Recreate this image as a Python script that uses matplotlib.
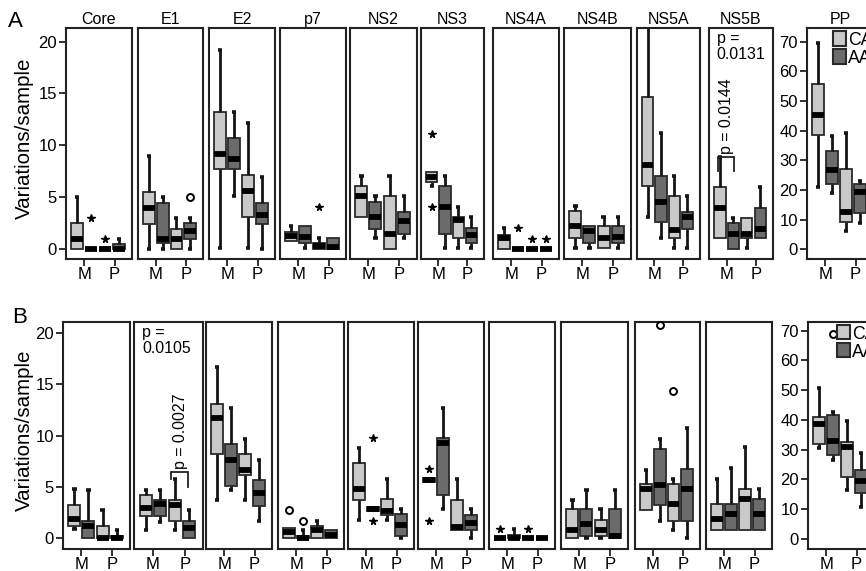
import matplotlib
matplotlib.use("Agg")
import matplotlib.pyplot as plt
from matplotlib.patches import Patch

plt.rcParams['font.family'] = ['Liberation Sans', 'DejaVu Sans']

genes = ["Core", "E1", "E2", "p7", "NS2", "NS3", "NS4A", "NS4B", "NS5A", "NS5B", "PP"]
group_labels = ["M", "P"]
cohorts = ["CA", "AA"]

# Box statistics per gene; the four boxes are CA-M, AA-M, CA-P, AA-P
# ---- panel A ----
a_lo = [[0, 0, 0, 0], [0, 0, 0, 0], [0.1, 5.1, 0.1, 0], [0.8, 0.1, 0, 0],
        [3.1, 1.1, 0, 1.1], [6.1, 0.1, 0.1, 0.1], [0, 0, 0, 0], [0.1, 0.1, 0.1, 0.1],
        [3.1, 1.1, 0.1, 0.1], [1.1, 0, 0.1, 1.1], [20.9, 19.1, 6.0, 9.0]]
a_q1 = [[0, 0, 0, 0], [2.4, 0.6, 0, 1.0], [7.7, 7.7, 3.1, 2.4], [0.8, 0.6, 0, 0],
        [3.1, 2.0, 0, 1.5], [6.5, 1.5, 1.1, 0.6], [0, 0, 0, 0], [1.1, 0.6, 0.1, 0.6],
        [6.1, 2.6, 1.1, 2.0], [1.1, 0, 1.1, 1.1], [38.5, 22.0, 9.3, 12.1]]
a_med = [[1.0, 0, 0, 0], [4.0, 1.0, 1.0, 1.8], [9.2, 8.7, 5.6, 3.3], [1.3, 1.2, 0.3, 0.2],
         [5.1, 3.1, 1.5, 2.7], [7.0, 4.1, 2.8, 1.4], [1.1, 0, 0, 0], [2.2, 1.8, 1.1, 1.2],
         [8.1, 4.6, 1.9, 3.1], [4.0, 1.5, 1.5, 2.0], [45.3, 26.7, 12.7, 19.4]]
a_q3 = [[2.5, 0, 0, 0.5], [5.5, 4.5, 2.0, 2.5], [13.2, 10.7, 7.2, 4.5], [1.7, 2.2, 0.6, 1.1],
        [6.1, 4.6, 5.1, 3.6], [7.4, 6.1, 3.1, 2.1], [1.4, 0, 0, 0], [3.7, 2.2, 2.2, 2.2],
        [14.7, 7.1, 5.1, 3.6], [6.0, 2.5, 3.0, 4.0], [55.7, 33.1, 27.0, 22.0]]
a_hi = [[5.0, 0, 0, 1.0], [9.0, 5.0, 3.0, 3.0], [19.2, 13.2, 12.2, 7.0], [2.2, 2.2, 1.1, 1.1],
        [7.1, 5.1, 7.1, 5.1], [7.4, 7.1, 4.1, 3.1], [2.1, 0, 0, 0], [4.2, 2.2, 3.1, 3.1],
        [22.0, 11.2, 7.1, 5.1], [8.9, 3.0, 3.0, 6.0], [69.4, 38.2, 39.3, 23.1]]
# outliers: (gene index, box index, value, marker)
a_out = [(0, 1, 3.0, '*'), (0, 2, 1.0, '*'), (1, 3, 5.0, 'o'), (3, 2, 4.1, '*'),
         (5, 0, 11.1, '*'), (5, 0, 4.1, '*'), (6, 1, 2.1, '*'), (6, 2, 1.0, '*'),
         (6, 3, 1.0, '*')]

# ---- panel B ----
b_lo = [[0.9, 0, 0, 0], [0.75, 1.6, 0.75, 0], [3.7, 4.7, 3.7, 1.7], [0, 0, 0, 0],
        [1.8, 2.8, 1.8, 0], [5.5, 2.8, 0.75, 0], [0, 0, 0, 0], [0, 0, 0, 0],
        [2.7, 1.7, 0.75, 0], [0.8, 0.8, 0.8, 0.8], [30.6, 26.6, 16.3, 10.6]]
b_q1 = [[1.15, 0, 0, 0], [2.1, 2.1, 1.7, 0], [8.2, 5.1, 6.1, 3.1], [0, 0, 0, 0],
        [3.7, 2.6, 2.2, 0.2], [5.5, 4.2, 0.75, 0.75], [0, 0, 0, 0], [0, 0.16, 0.16, 0],
        [2.7, 3.2, 1.7, 1.7], [0.8, 0.8, 0.8, 0.8], [32.0, 28.3, 20.9, 15.5]]
b_med = [[1.85, 1.2, 0, 0], [2.9, 3.3, 3.2, 1.0], [11.7, 7.6, 6.6, 4.4], [0.6, 0, 0.8, 0.3],
         [4.8, 2.8, 2.6, 1.3], [5.7, 9.3, 1.1, 1.5], [0, 0, 0, 0], [0.75, 1.4, 0.8, 0.2],
         [4.8, 5.2, 3.3, 4.8], [1.9, 2.3, 3.8, 2.3], [38.6, 32.9, 31.0, 19.6]]
b_q3 = [[3.25, 1.7, 1.2, 0.2], [4.2, 3.7, 3.7, 1.7], [13.1, 9.2, 8.2, 5.7], [1.0, 0.16, 1.2, 0.75],
        [7.3, 3.0, 3.8, 2.3], [5.9, 9.75, 3.7, 2.2], [0, 0.3, 0, 0], [2.8, 2.8, 1.8, 2.8],
        [5.3, 8.7, 5.3, 6.7], [3.3, 3.3, 4.8, 3.8], [41.1, 41.7, 32.7, 23.2]]
b_hi = [[4.8, 4.7, 2.7, 0.75], [4.7, 4.7, 5.75, 2.7], [16.7, 12.7, 9.7, 7.6], [1.0, 0.75, 1.7, 0.75],
        [8.8, 3.0, 5.75, 2.8], [5.9, 12.7, 5.75, 2.8], [0, 0.9, 0, 0], [3.7, 4.7, 2.8, 4.7],
        [6.6, 9.7, 5.75, 10.7], [5.8, 6.8, 8.9, 4.8], [50.6, 42.6, 39.5, 28.7]]
b_out = [(3, 0, 2.7, 'o'), (3, 1, 1.7, 'o'), (4, 1, 9.8, '*'), (4, 1, 1.7, '*'),
         (5, 0, 6.7, '*'), (5, 0, 1.7, '*'), (6, 0, 0.9, '*'), (6, 2, 0.9, '*'),
         (8, 1, 20.8, 'o'), (8, 2, 14.3, 'o'), (10, 1, 68.9, 'o')]

# significance notes: (gene index, overall p, pairwise p, bracket x0, x1, top, left foot, right foot)
a_sig = (9, "0.0131", "0.0144", 0.85, 2.05, 8.9, 7.5, 7.5)
b_sig = (1, "0.0105", "0.0027", 2.74, 3.93, 6.4, 5.75, 5.0)

W, H = 866, 571
LIGHT = "#c9c9c9"
DARK = "#6b6b6b"
EDGE = "#2a2a2a"
fig = plt.figure(figsize=(W / 100, H / 100), dpi=100)

row_a_px = [(66, 132), (138, 203), (209, 275), (280, 346), (350, 417), (421, 484),
            (493, 559), (564, 631), (637, 700), (709, 773), (807, 873)]
row_b_px = [(63, 130), (134, 203), (206, 272), (278, 344), (348, 414), (418, 484),
            (489, 555), (561, 628), (635, 700), (706, 772), (808, 874)]

positions = [1, 2, 3, 4]
XLIM = (0.19, 4.95)


def px_axes(l, r, t, b):
    return fig.add_axes([l / W, 1 - b / H, (r - l) / W, (b - t) / H])


def draw_row(cols, top, bottom, lo, q1, med, q3, hi, outs, sig, ylim, pp_ylim,
             titles, leg_x):
    axes = []
    for g, (l, r) in enumerate(cols):
        ax = px_axes(l, r, top, bottom)
        stats = []
        for k in range(4):
            stats.append(dict(whislo=lo[g][k], q1=q1[g][k], med=med[g][k],
                              q3=q3[g][k], whishi=hi[g][k], fliers=[]))
        art = ax.bxp(stats, positions=positions, widths=0.85, capwidths=0.3,
                     patch_artist=True, showfliers=False, manage_ticks=False,
                     boxprops=dict(edgecolor=EDGE, linewidth=1.3),
                     medianprops=dict(color="black", linewidth=4.2,
                                      solid_capstyle="butt"),
                     whiskerprops=dict(color="#151515", linewidth=2.0,
                                       solid_capstyle="butt"),
                     capprops=dict(color="#151515", linewidth=2.6,
                                   solid_capstyle="butt"))
        for k, box in enumerate(art["boxes"]):
            box.set_facecolor(LIGHT if k % 2 == 0 else DARK)
            box.set_zorder(2)
        for k in range(4):
            if lo[g][k] >= q1[g][k]:
                art["caps"][2 * k].set_visible(False)
                art["whiskers"][2 * k].set_visible(False)
            if hi[g][k] <= q3[g][k]:
                art["caps"][2 * k + 1].set_visible(False)
                art["whiskers"][2 * k + 1].set_visible(False)
        for m in art["medians"]:
            m.set_zorder(3)
        for (gi, bi, val, mk) in outs:
            if gi != g:
                continue
            if mk == '*':
                ax.plot(positions[bi], val, marker='*', ms=5.5, color='black',
                        linestyle='none', zorder=4, clip_on=False)
            else:
                ax.plot(positions[bi], val, marker='o', ms=5, mfc='white',
                        mec='black', mew=1.4, linestyle='none', zorder=4,
                        clip_on=False)
        ax.set_xlim(*XLIM)
        ax.set_ylim(*(pp_ylim if g == len(cols) - 1 else ylim))
        ax.set_xticks([1.5, 3.7])
        ax.set_xticklabels(group_labels)
        if g == 0:
            ax.set_yticks([0, 5, 10, 15, 20])
        elif g == len(cols) - 1:
            ax.set_yticks(range(0, 71, 10))
        else:
            ax.set_yticks([])
        ax.tick_params(direction="out", length=5, width=1.3, labelsize=12,
                       pad=1.5, color="#222222")
        ax.tick_params(axis="x", pad=1.0)
        for sp in ax.spines.values():
            sp.set_linewidth(1.5)
            sp.set_color("#222222")
        if titles:
            ax.set_title(genes[g], fontsize=11.5, pad=3)
        axes.append(ax)

    # significance annotation
    gi, p_all, p_pair, x0, x1, ytop, yl, yr = sig
    ax = axes[gi]
    ax.text(0.12, 0.985, "p =\n" + p_all, transform=ax.transAxes, ha="left",
            va="top", fontsize=11.4, linespacing=1.05)
    ax.plot([x0, x0, x1, x1], [yl, ytop, ytop, yr], color="#222222", lw=1.3,
            solid_joinstyle="miter", zorder=5)
    ax.text((x0 + x1) / 2 + 0.05, ytop + 0.3, "p = " + p_pair, rotation=90,
            ha="center", va="bottom", fontsize=11.4)

    # legend in the PP panel
    handles = [Patch(facecolor=LIGHT, edgecolor=EDGE, linewidth=1.5),
               Patch(facecolor=DARK, edgecolor=EDGE, linewidth=1.5)]
    axes[-1].legend(handles, cohorts, loc="upper left",
                    bbox_to_anchor=(leg_x, 0.985), frameon=False, fontsize=12.7,
                    handlelength=0.75, handleheight=0.85, handletextpad=0.1,
                    labelspacing=0.05, borderpad=0, borderaxespad=0)
    return axes


draw_row(row_a_px, 28, 259, a_lo, a_q1, a_med, a_q3, a_hi, a_out, a_sig,
         (-0.93, 21.3), (-3.3, 74.6), True, 0.39)
draw_row(row_b_px, 322, 549, b_lo, b_q1, b_med, b_q3, b_hi, b_out, b_sig,
         (-1.07, 21.07), (-3.4, 72.9), False, 0.44)

fig.text(24 / W, 1 - 138 / H, "Variations/sample", rotation=90, ha="center",
         va="center", fontsize=14.8)
fig.text(24 / W, 1 - 430 / H, "Variations/sample", rotation=90, ha="center",
         va="center", fontsize=14.8)
fig.text(8 / W, 1 - 27 / H, "A", ha="left", va="baseline", fontsize=16)
fig.text(12 / W, 1 - 323 / H, "B", ha="left", va="baseline", fontsize=16)

fig.savefig("out.png", dpi=100)
